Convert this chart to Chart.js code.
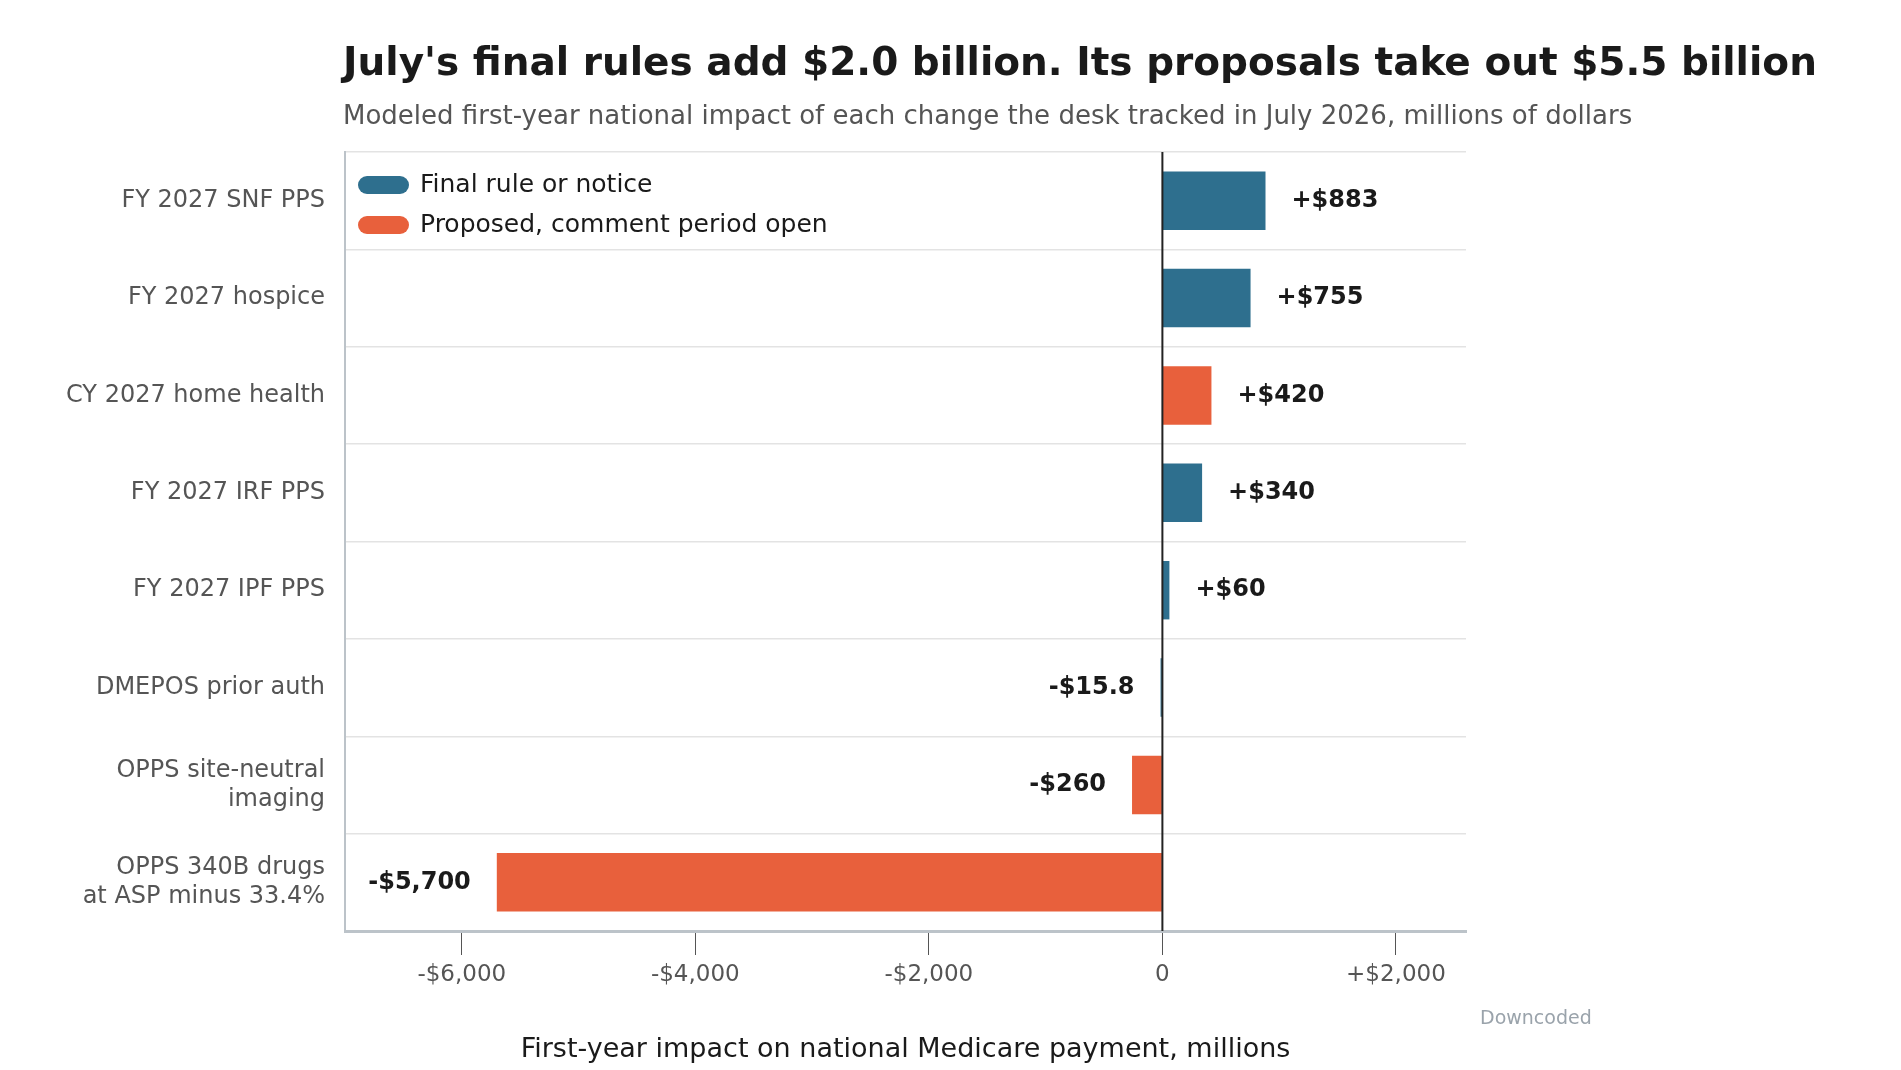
<!DOCTYPE html>
<html><head><meta charset="utf-8">
<script src="https://cdn.jsdelivr.net/npm/chart.js@4"></script>
<style>html,body{margin:0;background:#fff}#wrap{width:1901px;height:1070px}</style>
</head><body><div id="wrap"><canvas id="c" width="1901" height="1070"></canvas></div>
<script>
const categories = ["FY 2027 SNF PPS", "FY 2027 hospice", "CY 2027 home health", "FY 2027 IRF PPS",
  "FY 2027 IPF PPS", "DMEPOS prior auth", ["OPPS site-neutral", "imaging"], ["OPPS 340B drugs", "at ASP minus 33.4%"]];
const values = [883, 755, 420, 340, 60, -15.8, -260, -5700];
const valueLabels = ["+$883", "+$755", "+$420", "+$340", "+$60", "-$15.8", "-$260", "-$5,700"];
const status = ["final", "final", "proposed", "final", "final", "final", "proposed", "proposed"];
const tickValues = [-6000, -4000, -2000, 0, 2000];
const tickLabels = ["-$6,000", "-$4,000", "-$2,000", "0", "+$2,000"];

const BLUE = "#2e6f8e", ORANGE = "#e8603c";
const FONT = "'DejaVu Sans', sans-serif";

const overlay = {
  id: "overlay",
  afterDraw(chart) {
    const { ctx, chartArea: a, scales: { x, y } } = chart;
    ctx.save();
    // zero line
    ctx.strokeStyle = "#222"; ctx.lineWidth = 2;
    ctx.beginPath(); ctx.moveTo(x.getPixelForValue(0), a.top); ctx.lineTo(x.getPixelForValue(0), a.bottom); ctx.stroke();
    // title
    ctx.textBaseline = "alphabetic"; ctx.textAlign = "left";
    ctx.fillStyle = "#1a1a1a"; ctx.font = "bold 39px " + FONT;
    ctx.fillText("July's final rules add $2.0 billion. Its proposals take out $5.5 billion", 343, 75);
    ctx.fillStyle = "#555"; ctx.font = "26px " + FONT;
    ctx.fillText("Modeled first-year national impact of each change the desk tracked in July 2026, millions of dollars", 343, 124);
    // value labels
    ctx.font = "bold 24px " + FONT; ctx.fillStyle = "#1a1a1a"; ctx.textBaseline = "middle";
    const meta = chart.getDatasetMeta(0);
    meta.data.forEach((bar, i) => {
      const v = values[i];
      if (v >= 0) { ctx.textAlign = "left"; ctx.fillText(valueLabels[i], bar.x + 26, bar.y); }
      else { ctx.textAlign = "right"; ctx.fillText(valueLabels[i], bar.x - 26, bar.y); }
    });
    // legend
    const items = [["Final rule or notice", BLUE], ["Proposed, comment period open", ORANGE]];
    ctx.font = "25px " + FONT; ctx.textAlign = "left";
    items.forEach(([t, c], i) => {
      const yy = 185 + i * 40;
      ctx.fillStyle = c;
      ctx.beginPath(); ctx.roundRect(358, yy - 9, 51, 18, 9); ctx.fill();
      ctx.fillStyle = "#1a1a1a"; ctx.fillText(t, 420, yy);
    });
    // credit
    ctx.font = "19px " + FONT; ctx.fillStyle = "#9aa3ab"; ctx.textAlign = "left";
    ctx.fillText("Downcoded", 1480, 1019);
    ctx.restore();
  }
};

new Chart(document.getElementById("c"), {
  type: "bar",
  data: {
    labels: categories,
    datasets: [{
      data: values,
      backgroundColor: status.map(s => s === "final" ? BLUE : ORANGE),
      categoryPercentage: 1, barPercentage: 0.6
    }]
  },
  options: {
    indexAxis: "y", responsive: false, animation: false, devicePixelRatio: 1,
    layout: { padding: { top: 152, right: 435, left: 0, bottom: 0 } },
    plugins: { legend: { display: false }, tooltip: { enabled: false } },
    scales: {
      x: {
        min: -7000, max: 2600,
        afterBuildTicks: s => { s.ticks = tickValues.map(v => ({ value: v })); },
        afterFit: s => { s.height = 139; },
        grid: { display: true, drawOnChartArea: false, drawTicks: true, tickLength: 24, color: "#555", tickWidth: 1 },
        border: { color: "#bcc3c9", width: 3 },
        ticks: { callback: (v) => tickLabels[tickValues.indexOf(v)], color: "#555", font: { family: FONT, size: 23 }, padding: 6 },
        title: { display: true, text: "First-year impact on national Medicare payment, millions", color: "#1a1a1a", font: { family: FONT, size: 27 }, padding: { top: 4 } }
      },
      y: {
        afterFit: s => { s.width = 345; },
        grid: { color: "#e3e3e3", lineWidth: 1.5, drawTicks: false },
        border: { color: "#bcc3c9", width: 2 },
        ticks: { color: "#555", font: { family: FONT, size: 24 }, padding: 20 }
      }
    }
  },
  plugins: [overlay]
});
</script></body></html>
